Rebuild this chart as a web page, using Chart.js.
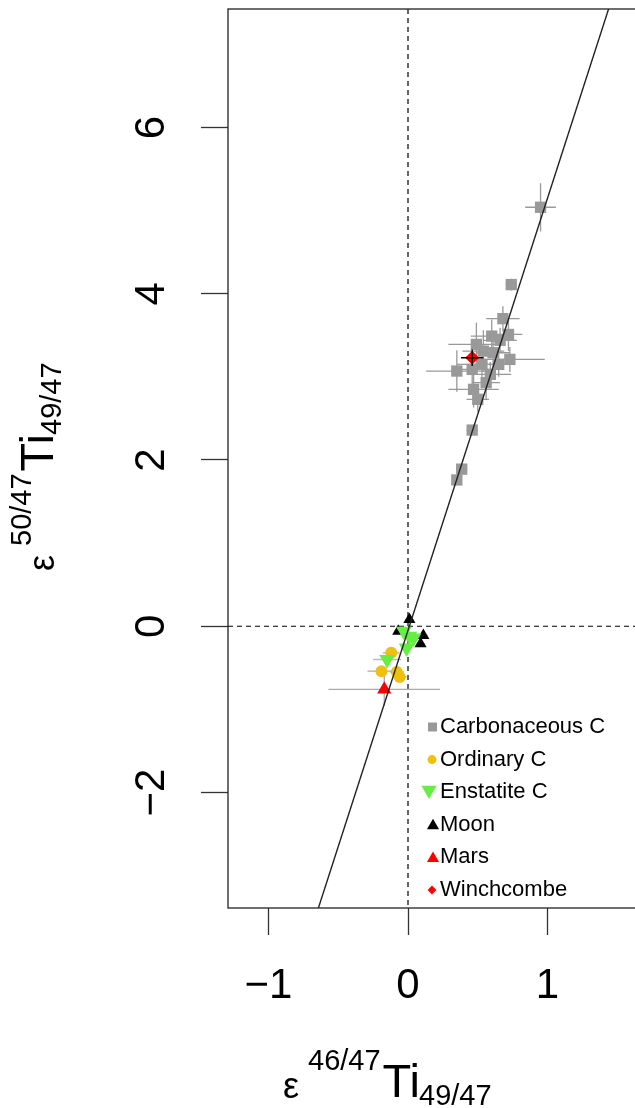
<!DOCTYPE html>
<html>
<head>
<meta charset="utf-8">
<script src="https://cdn.jsdelivr.net/npm/chart.js@4.4.0/dist/chart.umd.min.js"></script>
<style>
  html, body { margin: 0; padding: 0; background: #fff; overflow: hidden; }
</style>
</head>
<body>
<canvas id="myChart" width="680" height="1108"></canvas>
<script>
// ---- data ----
// carbonaceous chondrites
const ccX    = [0.95, 0.74, 0.68, 0.72, 0.60, 0.66, 0.49, 0.61, 0.54, 0.73, 0.53, 0.65, 0.35, 0.46, 0.59, 0.56, 0.47, 0.50, 0.46, 0.385, 0.35];
const ccY    = [5.04, 4.11, 3.70, 3.51, 3.49, 3.44, 3.39, 3.29, 3.31, 3.21, 3.15, 3.15, 3.07, 3.09, 3.03, 2.93, 2.85, 2.73, 2.36, 1.89, 1.76];
const ccXerr = [0.11, 0.04, 0.12, 0.10, 0.15, 0.12, 0.20, 0.12, 0.15, 0.25, 0.18, 0.10, 0.22, 0.12, 0.15, 0.10, 0.18, 0.08, 0.04, 0.04, 0.03];
const ccYerr = [0.29, 0.07, 0.15, 0.20, 0.20, 0.15, 0.26, 0.20, 0.25, 0.15, 0.20, 0.15, 0.25, 0.20, 0.15, 0.20, 0.22, 0.15, 0.05, 0.05, 0.04];

// ordinary chondrites
const ocX    = [-0.19, -0.08, -0.06, -0.12];
const ocY    = [-0.54, -0.55, -0.61, -0.32];
const ocXerr = [0.10, 0.05, 0.05, 0.06];
const ocYerr = [0.05, 0.05, 0.05, 0.05];

// enstatite chondrites
const ecX    = [-0.03, 0.04, -0.01, -0.15, 0.01];
const ecY    = [-0.06, -0.14, -0.26, -0.40, -0.12];
const ecXerr = [0.04, 0.04, 0.04, 0.10, 0.03];
const ecYerr = [0.05, 0.05, 0.05, 0.05, 0.05];

// moon
const moonX = [0.01, -0.07, 0.11, 0.09];
const moonY = [0.08, -0.06, -0.11, -0.21];
const moonXerr = [0.03, 0.03, 0.03, 0.03];
const moonYerr = [0.04, 0.04, 0.04, 0.04];

// mars
const marsX = [-0.17];
const marsY = [-0.76];
const marsXerr = [0.40];
const marsYerr = [0.20];

// winchcombe
const winX = [0.46];
const winY = [3.23];
const winXerr = [0.08];
const winYerr = [0.10];

// regression line, end points
const fitX = [-0.70, 1.45];
const fitY = [-3.69, 7.49];

const seriesNames = ['Carbonaceous C', 'Ordinary C', 'Enstatite C', 'Moon', 'Mars', 'Winchcombe'];
const xTicks = [-1, 0, 1];
const yTicks = [-2, 0, 2, 4, 6];

const FONT = '"Liberation Sans", Arial, sans-serif';

function pts(xs, ys) {
  return xs.map((x, i) => ({ x: x, y: ys[i] }));
}

// draw a small marker for the legend
function marker(ctx, style, x, y, r, color, down) {
  ctx.fillStyle = color;
  ctx.beginPath();
  if (style === 'rect') {
    ctx.rect(x - r, y - r, 2 * r, 2 * r);
  } else if (style === 'circle') {
    ctx.arc(x, y, r, 0, Math.PI * 2);
  } else if (style === 'triangle') {
    const d = down ? -1 : 1;
    ctx.moveTo(x, y - d * r);
    ctx.lineTo(x + r * 0.866, y + d * r * 0.5);
    ctx.lineTo(x - r * 0.866, y + d * r * 0.5);
  } else if (style === 'rectRot') {
    ctx.moveTo(x, y - r); ctx.lineTo(x + r, y); ctx.lineTo(x, y + r); ctx.lineTo(x - r, y);
  }
  ctx.closePath();
  ctx.fill();
}

// error bars
function errBars(chart, black) {
  const ctx = chart.ctx, xs = chart.scales.x, ys = chart.scales.y, a = chart.chartArea;
  ctx.save();
  ctx.beginPath();
  ctx.rect(a.left, a.top, a.right - a.left, a.bottom - a.top);
  ctx.clip();
  chart.data.datasets.forEach(ds => {
    if (!ds.xErr) return;
    if ((ds.errColor === '#000') !== black) return;
    ctx.strokeStyle = ds.errColor;
    ctx.lineWidth = 1.3;
    ds.data.forEach((p, i) => {
      const px = xs.getPixelForValue(p.x), py = ys.getPixelForValue(p.y);
      ctx.beginPath();
      ctx.moveTo(xs.getPixelForValue(p.x - ds.xErr[i]), py);
      ctx.lineTo(xs.getPixelForValue(p.x + ds.xErr[i]), py);
      ctx.moveTo(px, ys.getPixelForValue(p.y - ds.yErr[i]));
      ctx.lineTo(px, ys.getPixelForValue(p.y + ds.yErr[i]));
      ctx.stroke();
    });
  });
  ctx.restore();
}

// epsilon ^{sup} Ti _{sub}, drawn from (0,0) along the baseline
function epsTitle(ctx, sup, sub, supRaise) {
  let x = 0;
  ctx.textBaseline = 'alphabetic';
  ctx.textAlign = 'left';
  ctx.fillStyle = '#000';
  ctx.font = '36px ' + FONT;
  ctx.fillText('\u03b5', x, 1);
  x += ctx.measureText('\u03b5').width + 9;
  ctx.font = '29px ' + FONT;
  ctx.fillText(sup, x, supRaise);
  x += ctx.measureText(sup).width + 2;
  ctx.font = '47px ' + FONT;
  ctx.fillText('Ti', x, 0);
  x += ctx.measureText('Ti').width - 1;
  ctx.font = '29px ' + FONT;
  ctx.fillText(sub, x, 8);
}

const decor = {
  id: 'decor',
  beforeDatasetsDraw(chart) {
    const ctx = chart.ctx, a = chart.chartArea;
    const xs = chart.scales.x, ys = chart.scales.y;
    // zero lines
    ctx.save();
    ctx.strokeStyle = '#000';
    ctx.lineWidth = 1.2;
    ctx.setLineDash([5, 4]);
    const x0 = xs.getPixelForValue(0), y0 = ys.getPixelForValue(0);
    ctx.beginPath();
    ctx.moveTo(x0, a.top); ctx.lineTo(x0, a.bottom);
    ctx.moveTo(a.left, y0); ctx.lineTo(a.right, y0);
    ctx.stroke();
    ctx.restore();
    errBars(chart, false);
  },
  afterDatasetsDraw(chart) {
    errBars(chart, true);
  },
  afterDraw(chart) {
    const ctx = chart.ctx, a = chart.chartArea, ys = chart.scales.y;
    ctx.save();
    // box
    ctx.strokeStyle = '#222';
    ctx.lineWidth = 1.3;
    ctx.strokeRect(a.left, a.top, a.right - a.left, a.bottom - a.top);

    // y tick labels, rotated like R
    ctx.fillStyle = '#000';
    ctx.font = '42px ' + FONT;
    ctx.textAlign = 'center';
    ctx.textBaseline = 'alphabetic';
    ys.ticks.forEach(t => {
      ctx.save();
      ctx.translate(a.left - 79, ys.getPixelForValue(t.value));
      ctx.rotate(-Math.PI / 2);
      ctx.fillText(t.value < 0 ? '\u2212' + Math.abs(t.value) : String(t.value), 0, 15);
      ctx.restore();
    });

    // axis titles
    ctx.save();
    ctx.translate(a.left + 55, a.bottom + 189);
    epsTitle(ctx, '46/47', '49/47', -27);
    ctx.restore();
    ctx.save();
    ctx.translate(a.left - 175, a.bottom - 337);
    ctx.rotate(-Math.PI / 2);
    epsTitle(ctx, '50/47', '49/47', -22);
    ctx.restore();

    // legend
    const lx = a.left + 212, ly = a.bottom - 181, step = 32.6;
    const sizes = [4.5, 4.5, 8.7, 7, 7, 4.4];
    const offs = [0.5, 0, -3, 1, 1, 0];
    const dy = [0, 0, -2, 1, 1, 0];
    ctx.font = '22px ' + FONT;
    ctx.textAlign = 'left';
    ctx.textBaseline = 'middle';
    seriesNames.forEach((name, i) => {
      const ds = chart.data.datasets.find(d => d.label === name);
      const y = ly + i * step;
      marker(ctx, ds.pointStyle, lx - 8 + offs[i], y + dy[i], sizes[i], ds.backgroundColor, ds.rotation === 180);
      ctx.fillStyle = '#000';
      ctx.fillText(name, lx, y);
    });
    ctx.restore();
  }
};

const data = {
  datasets: [
    {
      label: 'fit', data: pts(fitX, fitY), showLine: true,
      borderColor: '#222', borderWidth: 1.4, pointRadius: 0, order: 0
    },
    {
      label: 'Winchcombe', data: pts(winX, winY), xErr: winXerr, yErr: winYerr, errColor: '#000',
      pointStyle: 'rectRot', pointRadius: 7, backgroundColor: '#ff0000', borderWidth: 0, order: 1
    },
    {
      label: 'Mars', data: pts(marsX, marsY), xErr: marsXerr, yErr: marsYerr, errColor: '#aaaaaa',
      pointStyle: 'triangle', pointRadius: 8.3, backgroundColor: '#ff0000', borderWidth: 0, order: 2
    },
    {
      label: 'Enstatite C', data: pts(ecX, ecY), xErr: ecXerr, yErr: ecYerr, errColor: '#bbbbbb',
      pointStyle: 'triangle', rotation: 180, pointRadius: 9, backgroundColor: '#66ee44', borderWidth: 0, order: 3
    },
    {
      label: 'Moon', data: pts(moonX, moonY), xErr: moonXerr, yErr: moonYerr, errColor: '#bbbbbb',
      pointStyle: 'triangle', pointRadius: 7, backgroundColor: '#000000', borderWidth: 0, order: 4
    },
    {
      label: 'Ordinary C', data: pts(ocX, ocY), xErr: ocXerr, yErr: ocYerr, errColor: '#aaaaaa',
      pointStyle: 'circle', pointRadius: 6, backgroundColor: '#f0c010', borderWidth: 0, order: 5
    },
    {
      label: 'Carbonaceous C', data: pts(ccX, ccY), xErr: ccXerr, yErr: ccYerr, errColor: '#999999',
      pointStyle: 'rect', pointRadius: 8, backgroundColor: '#999999', borderWidth: 0, order: 6
    }
  ]
};

const config = {
  type: 'scatter',
  data: data,
  options: {
    responsive: false,
    animation: false,
    layout: { padding: { top: 5, right: 20, left: 0, bottom: 0 } },
    plugins: { legend: { display: false }, tooltip: { enabled: false } },
    scales: {
      x: {
        type: 'linear',
        min: -1.29, max: 1.806,
        afterFit: s => { s.height = 200; },
        afterBuildTicks: s => { s.ticks = xTicks.map(v => ({ value: v })); },
        grid: { drawOnChartArea: false, drawTicks: true, tickLength: 27, tickColor: '#333', tickWidth: 1.3 },
        border: { display: false },
        ticks: {
          padding: 26, color: '#000', font: { family: FONT, size: 42 },
          callback: v => v < 0 ? '\u2212' + Math.abs(v) : String(v)
        }
      },
      y: {
        type: 'linear',
        min: -3.389, max: 7.425,
        afterFit: s => { s.width = 228; },
        afterBuildTicks: s => { s.ticks = yTicks.map(v => ({ value: v })); },
        grid: { drawOnChartArea: false, drawTicks: true, tickLength: 27, tickColor: '#333', tickWidth: 1.3 },
        border: { display: false },
        ticks: { display: false }
      }
    }
  },
  plugins: [decor]
};

// render
var myChart = new Chart(document.getElementById('myChart'), config);
</script>
</body>
</html>
